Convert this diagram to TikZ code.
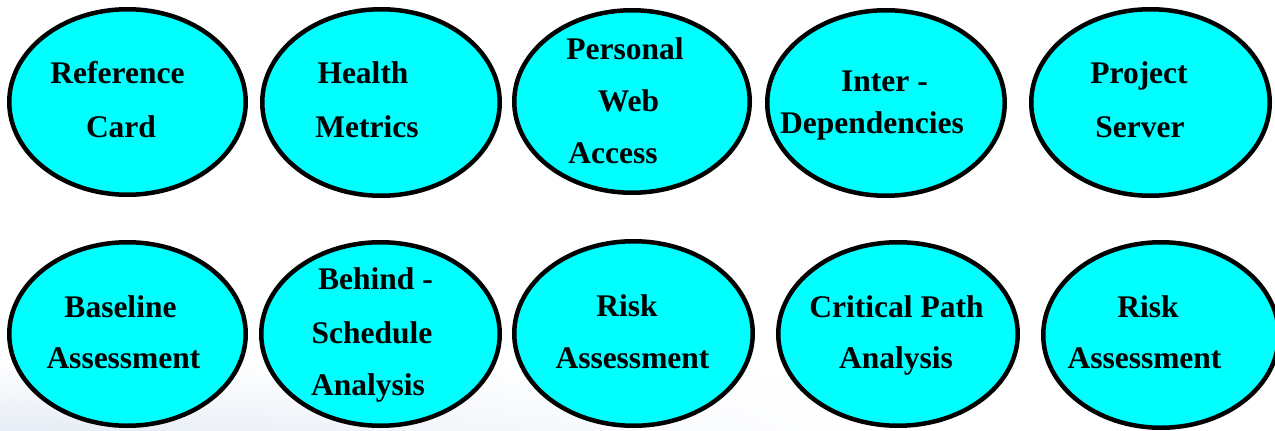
\documentclass[tikz,border=0pt]{standalone}
\usepackage{fontspec}
\setmainfont{Liberation Serif}
\usetikzlibrary{shapes.geometric,shadings}
\tikzset{
  oval/.style={ellipse, draw=black, line width=4.5pt, fill=cyanfill, inner sep=0pt},
  lbl/.style={anchor=base, inner sep=0pt, font=\fontsize{31.5}{36}\selectfont\bfseries}
}
\definecolor{cyanfill}{HTML}{00FFFF}
\definecolor{bgblue}{HTML}{E6ECF5}
\begin{document}
\begin{tikzpicture}[x=1pt,y=-1pt]
\useasboundingbox (0,0) rectangle (1275,431);
\fill[white] (0,0) rectangle (1275,431);
\shade[upper left=white, upper right=white, lower left=bgblue, lower right=white] (0pt,-431pt) rectangle (900pt,-360pt);
% top row
\node[oval, minimum width=236.5pt, minimum height=185.5pt] (e1) at (127.5,102) {};
\node[oval, minimum width=237.5pt, minimum height=186.5pt] (e2) at (381,102.5) {};
\node[oval, minimum width=235.5pt, minimum height=182.5pt] (e3) at (632,101.5) {};
\node[oval, minimum width=237.5pt, minimum height=185.5pt] (e4) at (886,103) {};
\node[oval, minimum width=238.5pt, minimum height=186.5pt] (e5) at (1150.5,102.5) {};
% bottom row
\node[oval, minimum width=236.5pt, minimum height=183.5pt] (e6) at (127.5,334) {};
\node[oval, minimum width=238.5pt, minimum height=183.5pt] (e7) at (380.5,334) {};
\node[oval, minimum width=238.5pt, minimum height=184.5pt] (e8) at (633.5,333.5) {};
\node[oval, minimum width=239.5pt, minimum height=183.5pt] (e9) at (898,334) {};
\node[oval, minimum width=235.5pt, minimum height=185.5pt] (e10) at (1161,335) {};
% labels
\node[lbl] (t1a) at (117.5,83) {Reference};
\node[lbl] (t1b) at (121,137) {Card};
\node[lbl] (t2a) at (363,83) {Health};
\node[lbl] (t2b) at (367,137) {Metrics};
\node[lbl] (t3a) at (625,59) {Personal};
\node[lbl] (t3b) at (628.5,111) {Web};
\node[lbl] (t3c) at (613,163) {Access};
\node[lbl] (t4a) at (884.5,91) {Inter -};
\node[lbl] (t4b) at (872,133) {Dependencies};
\node[lbl] (t5a) at (1139,83) {Project};
\node[lbl] (t5b) at (1140,137) {Server};
\node[lbl] (t6a) at (120.5,317) {Baseline};
\node[lbl] (t6b) at (123.5,368) {Assessment};
\node[lbl] (t7a) at (375.5,289) {Behind -};
\node[lbl] (t7b) at (372,343) {Schedule};
\node[lbl] (t7c) at (368,395) {Analysis};
\node[lbl] (t8a) at (627,316) {Risk};
\node[lbl] (t8b) at (632.5,368) {Assessment};
\node[lbl] (t9a) at (896.5,317) {Critical Path};
\node[lbl] (t9b) at (896,368) {Analysis};
\node[lbl] (t10a) at (1148,317) {Risk};
\node[lbl] (t10b) at (1144.5,368) {Assessment};
\end{tikzpicture}
\end{document}
